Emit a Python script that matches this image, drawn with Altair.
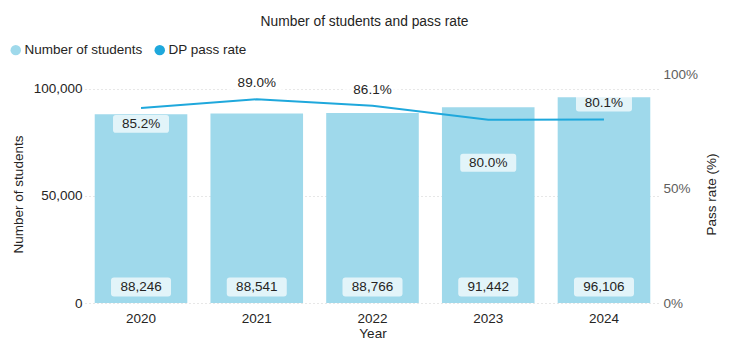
import altair as alt
import pandas as pd

# ---- data ----
years = ["2020", "2021", "2022", "2023", "2024"]
students = [88246, 88541, 88766, 91442, 96106]
pass_rate = [0.852, 0.890, 0.861, 0.800, 0.801]
series_names = ["Number of students", "DP pass rate"]

# ---- styling (label placement in pixels, positive = down) ----
pass_label_dy = [16, -16, -16, 43, -17]
PLOT_H = 229
BAR_COLOR = "#9fd9eb"
LINE_COLOR = "#1fa8dc"
FONT = "Liberation Sans"
BOX = ("M-0.9,-0.32 L0.9,-0.32 Q1,-0.32 1,-0.22 L1,0.22 Q1,0.32 0.9,0.32 "
       "L-0.9,0.32 Q-1,0.32 -1,0.22 L-1,-0.22 Q-1,-0.32 -0.9,-0.32 Z")

df = pd.DataFrame({
    "year": years,
    "students": students,
    "rate": pass_rate,
    "dy": pass_label_dy,
})
df["students_lbl"] = [f"{v:,}" for v in students]
df["rate_lbl"] = [f"{v*100:.1f}%" for v in pass_rate]

x_axis = alt.Axis(title="Year", labelAngle=0, domain=False, ticks=False,
                  labelPadding=8, titlePadding=2, labelColor="#252423",
                  titleColor="#252423")
x_enc = alt.X("year:N", scale=alt.Scale(paddingInner=0.2, paddingOuter=0.084),
              axis=x_axis, title="Year")

left_axis = alt.Axis(title="Number of students", values=[0, 50000, 100000],
                     format=",.0f", domain=False, ticks=False, labelPadding=3,
                     gridDash=[1, 3], gridColor="#cfcfcf", labelColor="#252423",
                     titleColor="#252423", titleX=-60, titleY=120)
right_axis = alt.Axis(title="Pass rate (%)", orient="right", values=[0, 0.5, 1],
                      format=".0%", grid=False, domain=False, ticks=False,
                      labelPadding=3, labelColor="#605e5c", titleColor="#252423",
                      titleAngle=270, titleBaseline="bottom", titleX=58, titleY=120)

y_left_scale = alt.Scale(domain=[0, 107000], nice=False, zero=True)
y_right_scale = alt.Scale(domain=[0, 1], nice=False)

base = alt.Chart(df)

bars = base.mark_bar(color=BAR_COLOR).encode(
    x=x_enc,
    y=alt.Y("students:Q", scale=y_left_scale, axis=left_axis, title="Number of students"),
)
bar_boxes = base.mark_point(shape=BOX, size=3600, filled=True, color="white",
                            opacity=0.7, yOffset=-16).encode(
    x=x_enc,
    y=alt.Y("zero:Q", scale=y_left_scale, axis=left_axis, title="Number of students"),
).transform_calculate(zero="0")
bar_text = base.mark_text(fontSize=13.5, font=FONT, color="#252423", dy=-16).encode(
    x=x_enc,
    y=alt.Y("zero:Q", scale=y_left_scale, axis=left_axis, title="Number of students"),
    text="students_lbl:N",
).transform_calculate(zero="0")

left = alt.layer(bars, bar_boxes, bar_text)

line = base.mark_line(color=LINE_COLOR, strokeWidth=2).encode(
    x=x_enc,
    y=alt.Y("rate:Q", scale=y_right_scale, axis=right_axis, title="Pass rate (%)"),
)
label_base = base.transform_calculate(lbl_y=f"datum.rate - datum.dy / {PLOT_H}")
rate_boxes = label_base.mark_point(shape=BOX, size=3136, filled=True, color="white",
                                   opacity=0.7).encode(
    x=x_enc,
    y=alt.Y("lbl_y:Q", scale=y_right_scale, axis=right_axis, title="Pass rate (%)"),
)
rate_text = label_base.mark_text(fontSize=13.5, font=FONT, color="#252423").encode(
    x=x_enc,
    y=alt.Y("lbl_y:Q", scale=y_right_scale, axis=right_axis, title="Pass rate (%)"),
    text="rate_lbl:N",
)
right = alt.layer(line, rate_boxes, rate_text)

legend_df = pd.DataFrame({"series": series_names})
legend_layer = alt.Chart(legend_df).mark_circle(opacity=0, size=100).encode(
    color=alt.Color("series:N",
                    scale=alt.Scale(domain=series_names, range=[BAR_COLOR, LINE_COLOR]),
                    sort=series_names,
                    legend=alt.Legend(title=None, orient="none", direction="horizontal",
                                      legendX=-76, legendY=-31, symbolType="circle",
                                      symbolSize=110, symbolOpacity=1, labelFontSize=13.5,
                                      labelFont=FONT, labelColor="#252423",
                                      labelOffset=2, columnPadding=10)),
)

chart = alt.layer(left, right, legend_layer).resolve_scale(
    y="independent"
).properties(
    width=575,
    height=229,
    title=alt.TitleParams("Number of students and pass rate", fontSize=13.8,
                          font=FONT, fontWeight="normal", color="#252423",
                          anchor="middle", offset=14, dx=-8),
    autosize=alt.AutoSizeParams(type="none"),
    padding={"left": 85, "top": 74, "right": 70, "bottom": 49},
).configure_view(stroke=None).configure_axis(
    labelFont=FONT, titleFont=FONT, labelFontSize=13.5, titleFontSize=13.5,
    titleFontWeight="normal",
)

chart.save("out.html", embed_options={"renderer": "svg", "actions": False})
